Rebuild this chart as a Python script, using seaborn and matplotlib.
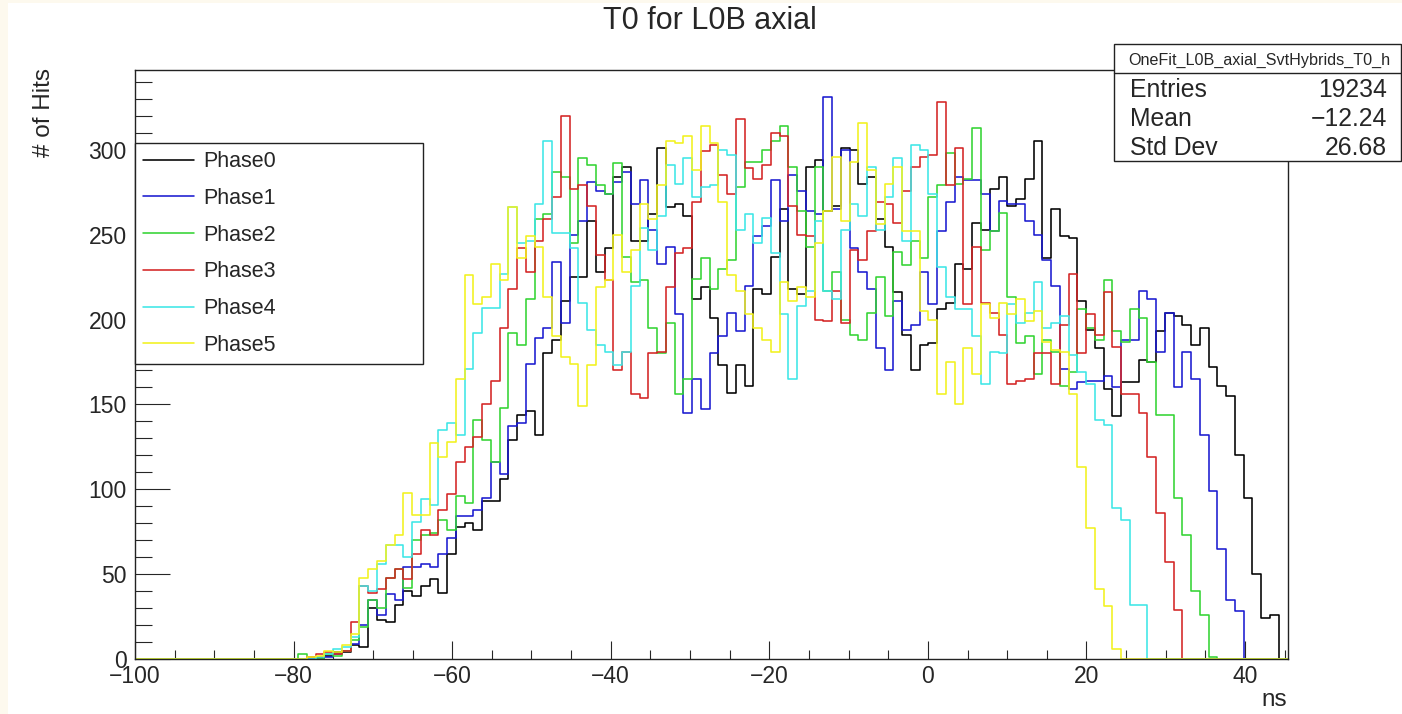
import numpy as np
import pandas as pd
import matplotlib
matplotlib.use("Agg")
import matplotlib.pyplot as plt
from matplotlib.patches import Rectangle
from matplotlib.lines import Line2D
import seaborn as sns

# ---------------- data ----------------
bin_start = -75.0 - 4 * 1.104   # first listed bin (k = -4)
bin_width = 1.104
phase_labels = ["Phase0", "Phase1", "Phase2", "Phase3", "Phase4", "Phase5"]

phase0 = [0, 0, 1, 2,
          4, 4, 8, 7, 30, 23, 22, 32, 40, 37, 43, 47, 39, 62, 78, 80, 76, 93, 93,
          106, 129, 144, 146, 132, 180, 188, 211, 225, 225, 258, 228, 242, 284, 290, 246, 246, 262,
          301, 266, 268, 261, 212, 219, 201, 173, 157, 173, 161, 218, 215, 237, 265, 218, 215, 290,
          294, 264, 267, 301, 300, 280, 284, 259, 243, 216, 191, 170, 185, 186, 206, 210, 233, 230, 257,
          253, 277, 284, 267, 271, 283, 305, 236, 265, 249, 248, 211, 194, 183, 159, 143, 163,
          163, 176, 175, 193, 204, 202, 197, 185, 195, 172, 161, 155, 120, 95, 50, 24, 26, 0]
phase1 = [0, 0, 0, 1,
          3, 5, 9, 20, 35, 26, 38, 35, 54, 54, 56, 54, 62, 71, 84, 84, 88, 95, 116,
          109, 137, 139, 174, 189, 195, 234, 198, 250, 258, 281, 276, 274, 281, 287, 268, 282, 253,
          233, 243, 203, 145, 165, 147, 180, 190, 204, 193, 220, 249, 255, 282, 258, 285, 276, 264,
          262, 331, 265, 300, 242, 228, 218, 183, 170, 211, 194, 197, 228, 209, 252, 269, 284, 282, 282,
          274, 252, 270, 268, 268, 258, 250, 235, 220, 171, 159, 163, 164, 164, 167, 160, 188,
          188, 217, 212, 181, 204, 160, 181, 165, 132, 99, 65, 35, 28, 0, 0, 0, 0, 0]
phase2 = [3, 1, 0, 3,
          2, 5, 11, 19, 35, 30, 48, 53, 42, 70, 73, 74, 82, 76, 96, 92, 141, 129, 116,
          148, 192, 185, 212, 259, 262, 287, 284, 245, 295, 291, 279, 274, 292, 237, 222, 223, 195,
          180, 198, 156, 165, 224, 236, 218, 230, 235, 278, 293, 293, 300, 305, 314, 290, 264, 243,
          290, 217, 228, 200, 191, 188, 204, 225, 202, 240, 232, 246, 236, 272, 279, 298, 280, 283, 313,
          241, 252, 263, 213, 186, 190, 168, 188, 181, 161, 169, 206, 195, 188, 223, 193, 187,
          206, 201, 175, 144, 144, 95, 73, 40, 26, 1, 0, 0, 0, 0, 0, 0, 0, 0]
phase3 = [0, 1, 3, 4,
          3, 5, 22, 43, 39, 41, 48, 53, 47, 62, 76, 73, 88, 97, 116, 125, 131, 150, 164,
          195, 218, 242, 228, 246, 259, 272, 320, 277, 279, 267, 238, 223, 170, 181, 156, 154, 180,
          181, 219, 239, 242, 269, 299, 303, 285, 274, 318, 289, 283, 291, 310, 308, 267, 250, 249,
          200, 199, 217, 198, 241, 235, 252, 269, 268, 257, 276, 290, 296, 297, 328, 279, 301, 209, 243,
          210, 204, 191, 162, 164, 165, 180, 180, 162, 197, 227, 180, 203, 191, 216, 184, 156,
          156, 145, 119, 86, 57, 29, 0, 0, 0, 0, 0, 0, 0, 0, 0, 0, 0, 0]
phase4 = [0, 0, 1, 3,
          6, 7, 13, 43, 40, 56, 67, 67, 60, 81, 94, 91, 135, 139, 132, 171, 192, 207, 207,
          227, 266, 245, 246, 268, 305, 251, 251, 242, 210, 194, 185, 181, 173, 181, 220, 254, 241,
          261, 291, 280, 295, 272, 278, 279, 300, 297, 253, 262, 245, 260, 239, 203, 165, 208, 217,
          258, 217, 212, 253, 268, 261, 290, 253, 272, 295, 246, 303, 300, 274, 231, 213, 206, 206, 190,
          162, 181, 180, 209, 198, 204, 222, 195, 198, 202, 179, 169, 162, 141, 138, 89, 82,
          32, 32, 0, 0, 0, 0, 0, 0, 0, 0, 0, 0, 0, 0, 0, 0, 0, 0]
phase5 = [0, 1, 2, 5,
          4, 8, 15, 48, 53, 58, 67, 73, 98, 85, 85, 127, 119, 128, 165, 226, 209, 213, 233,
          223, 266, 236, 249, 243, 213, 190, 178, 174, 149, 173, 219, 223, 250, 228, 241, 268, 259,
          279, 305, 304, 308, 288, 314, 304, 269, 226, 217, 203, 195, 188, 181, 222, 211, 219, 213,
          245, 264, 296, 258, 293, 316, 288, 256, 280, 290, 252, 252, 205, 200, 156, 175, 150, 183, 168,
          209, 201, 210, 203, 212, 199, 205, 187, 182, 181, 156, 113, 77, 41, 31, 6, 0,
          0, 0, 0, 0, 0, 0, 0, 0, 0, 0, 0, 0, 0, 0, 0, 0, 0, 0]

stats_name = "OneFit_L0B_axial_SvtHybrids_T0_h"
stats_rows = [("Entries", "19234"), ("Mean", "\u221212.24"), ("Std Dev", "26.68")]

# ---------------- styling ----------------
sns.set_style("white")
plt.rcParams["font.family"] = ["Liberation Sans", "DejaVu Sans"]
plt.rcParams["axes.unicode_minus"] = True

colors = ["#000000", "#1a1ad0", "#33d433", "#d42424", "#3de6e6", "#f2f21e"]

W, H = 1402, 714
fig = plt.figure(figsize=(W / 100, H / 100), dpi=100, facecolor="#fdf9ee")
fig.patches.append(Rectangle((8 / W, 0), 1 - 8 / W, 1 - 3 / H, transform=fig.transFigure,
                             facecolor="white", edgecolor="none", zorder=-10))

ax_l, ax_r, ax_t, ax_b = 135, 1287.5, 70, 659
ax = fig.add_axes([ax_l / W, 1 - ax_b / H, (ax_r - ax_l) / W, (ax_b - ax_t) / H])
ax.set_facecolor("white")

pad_lo = int(np.ceil((bin_start + 100.0) / bin_width)) + 1
series = [phase0, phase1, phase2, phase3, phase4, phase5]
n_data = len(phase0)
n_total = pad_lo + n_data + 2
first_edge = bin_start - pad_lo * bin_width
edges = first_edge + bin_width * np.arange(n_total + 1)
centers = 0.5 * (edges[:-1] + edges[1:])

for lab, vals, col in zip(phase_labels, series, colors):
    w = np.zeros(n_total)
    w[pad_lo:pad_lo + n_data] = vals
    df = pd.DataFrame({"t": centers, "n": w})
    sns.histplot(data=df, x="t", weights="n", bins=list(edges), element="step", fill=False,
                 color=col, linewidth=1.15, ax=ax, label=lab)

ax.set_xlim(-100, 45.35)
ax.set_ylim(0, 347)
ax.set_xlabel("")
ax.set_ylabel("")

ax.set_xticks(np.arange(-100, 41, 20))
ax.set_xticks(np.arange(-100, 46, 5), minor=True)
ax.set_yticks(np.arange(0, 301, 50))
ax.set_yticks(np.arange(0, 341, 10), minor=True)
ax.set_xticklabels([f"\u2212{abs(v)}" if v < 0 else str(v) for v in range(-100, 41, 20)])

ax.tick_params(axis="x", which="major", direction="in", length=12.7, width=0.8,
               labelsize=16.5, pad=4.5, bottom=True, top=False)
ax.tick_params(axis="x", which="minor", direction="in", length=6.3, width=0.8,
               bottom=True, top=False)
ax.tick_params(axis="y", which="major", direction="in", length=24.9, width=0.8,
               labelsize=16.5, pad=6, left=True, right=False)
ax.tick_params(axis="y", which="minor", direction="in", length=12.4, width=0.8,
               left=True, right=False)
for s in ax.spines.values():
    s.set_linewidth(1.0)
    s.set_color("#222222")

fig.text(710 / W, 1 - 21 / H, "T0 for L0B axial", ha="center", va="center", fontsize=22)
fig.text(44 / W, 1 - 68 / H, "# of Hits", rotation=90, ha="center", va="top", fontsize=17.5)
fig.text(1287 / W, 1 - 706 / H, "ns", ha="right", va="baseline", fontsize=17.5)

handles = [Line2D([], [], color=c, lw=1.15) for c in colors]
leg = fig.legend(handles, phase_labels, loc="upper left",
                 bbox_to_anchor=(ax_l / W, 1 - 364 / H, (423 - ax_l) / W, (364 - 143) / H),
                 mode="expand", fontsize=15.5, frameon=True, fancybox=False,
                 edgecolor="#222222", framealpha=1, borderaxespad=0, borderpad=0.38,
                 labelspacing=0.73, handlelength=2.35, handletextpad=0.45)
leg.get_frame().set_linewidth(1.0)

bx0, bx1, by0, by1, bsep = 1114, 1401, 44, 160.5, 72.7
fig.patches.append(Rectangle((bx0 / W, 1 - by1 / H), (bx1 - bx0) / W, (by1 - by0) / H,
                             transform=fig.transFigure, facecolor="white",
                             edgecolor="#222222", linewidth=1.0, zorder=5))
fig.lines.append(Line2D([bx0 / W, bx1 / W], [1 - bsep / H, 1 - bsep / H],
                        transform=fig.transFigure, color="#222222", lw=1.0, zorder=6))
fig.text(1259 / W, 1 - 60 / H, stats_name, ha="center", va="center",
         fontsize=11.6, zorder=7)
for i, (name, val) in enumerate(stats_rows):
    yy = 1 - (90 + i * 29) / H
    fig.text(1130 / W, yy, name, ha="left", va="center", fontsize=17.8, zorder=7)
    fig.text(1387 / W, yy, val, ha="right", va="center", fontsize=17.8, zorder=7)

fig.savefig("out.png", dpi=100, facecolor=fig.get_facecolor())
